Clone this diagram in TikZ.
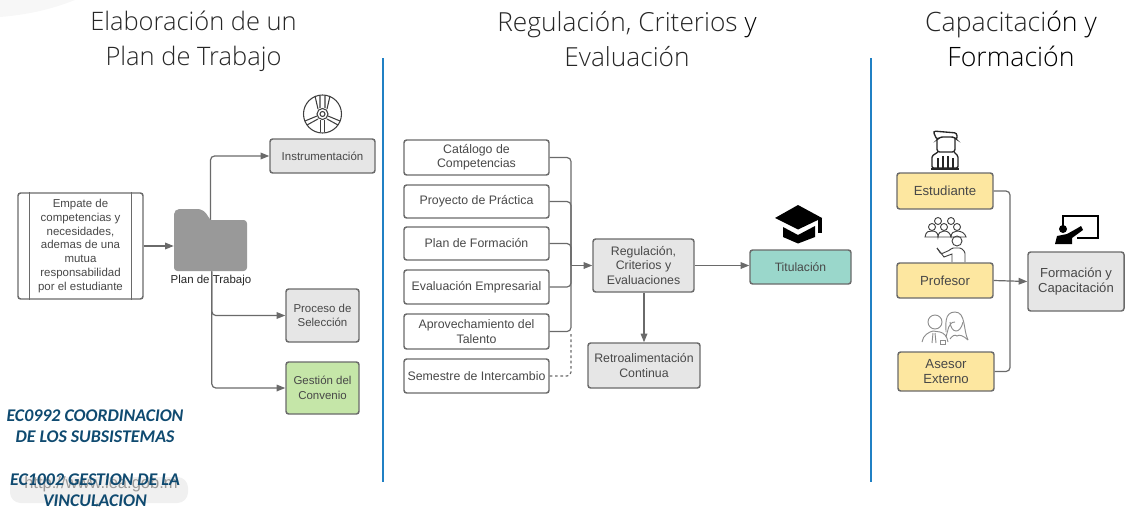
\documentclass[tikz,border=0pt]{standalone}
\usepackage{fontspec}
\setmainfont{Liberation Sans}
\newfontfamily\titlefont{Open Sans Light}
\newfontfamily\ecfont{Carlito}
\usetikzlibrary{arrows.meta}

\definecolor{boxgray}{HTML}{E6E6E6}
\definecolor{boxline}{HTML}{6A6A6A}
\definecolor{boxtext}{HTML}{484848}
\definecolor{boxgreen}{HTML}{C5E6A8}
\definecolor{boxteal}{HTML}{9AD7CB}
\definecolor{boxyellow}{HTML}{FDE7A0}
\definecolor{sepblue}{HTML}{2080C4}
\definecolor{ecblue}{HTML}{0F4A70}

\begin{document}
\begin{tikzpicture}[x=0.75pt,y=-0.75pt,
    titulo/.style={align=center,text=black!85},
    caja/.style={draw=boxline,line width=1.1pt,rounded corners=2pt,inner sep=0pt,align=center,
        text=boxtext,font=\fontsize{8.6}{10.8}\selectfont},
    media/.style={caja,fill=white,minimum width=108.75pt,font=\fontsize{9.25}{10.8}\selectfont},
    gris/.style={caja,fill=boxgray},
    amarilla/.style={caja,fill=boxyellow,font=\fontsize{9.9}{11.6}\selectfont},
    linea/.style={draw=boxline,line width=0.9pt,rounded corners=3pt},
    flecha/.style={linea,-{Triangle[length=6.5pt,width=5pt]}},
    ec/.style={font=\ecfont\bfseries\itshape\fontsize{13.4}{15.6}\selectfont,align=center,text=ecblue}]
\useasboundingbox (0,0) rectangle (1127,518);
\fill[black!3] (0,0) -- (75,0) .. controls (50,10) and (25,15) .. (0,17) -- cycle;

% titulos
\node[titulo,font=\titlefont\fontsize{19.1}{26.25}\selectfont] (t1) at (193.5,41) {Elaboración de un\\Plan de Trabajo};
\node[titulo,font=\titlefont\fontsize{19.7}{26.25}\selectfont] (t2) at (627,39) {Regulación, Criterios {\color{black}y}\\Evaluación};
\node[titulo,font=\titlefont\fontsize{20}{26.25}\selectfont] (t3) at (1011,39) {Capacitaci{\color{black}ón y}\\{\color{black}Formación}};
\coordinate (s1a) at (383,58);
\coordinate (s1b) at (383,482);
\coordinate (s2a) at (871,58);
\coordinate (s2b) at (871,482);
\draw[sepblue,line width=1.1pt] (s1a) -- (s1b);
\draw[sepblue,line width=1.1pt] (s2a) -- (s2b);

% plan de trabajo
\node[caja,fill=white,minimum width=93.75pt,minimum height=79.5pt,font=\fontsize{8.6}{10.35}\selectfont] (empate) at (80.5,246)
    {Empate de\\competencias y\\necesidades,\\ademas de una\\mutua\\responsabilidad\\por el estudiante};
\draw[boxline,line width=1.1pt] ([xshift=9pt]empate.north west) -- ([xshift=9pt]empate.south west);
\draw[boxline,line width=1.1pt] ([xshift=-9pt]empate.north east) -- ([xshift=-9pt]empate.south east);
\node[gris,minimum width=78.75pt,minimum height=25.5pt] (instr) at (322.5,156) {Instrumentación};
\node[gris,minimum width=54.75pt,minimum height=39.75pt] (proceso) at (322.5,315.5) {Proceso de\\Selección};
\node[caja,fill=boxgreen,minimum width=54.75pt,minimum height=39pt] (gestion) at (322.5,388) {Gestión del\\Convenio};
\draw[flecha] (210.5,225) |- (instr.west);
\node[fill=black!40,rounded corners=2.5pt,inner sep=0pt,minimum width=54.75pt,minimum height=38.25pt] (folder) at (210.5,245.5) {};
\fill[black!40,rounded corners=4pt] (174,235) -- (174,209) -- (203,209) -- (214,225) -- (214,235) -- cycle;
\node[inner sep=0pt,font=\fontsize{8.6}{10}\selectfont,text=black!85] (plan) at (211,281) {Plan de Trabajo};
\draw[flecha] (empate.east) -- (empate.east -| folder.west);
\draw[flecha] ([xshift=1pt]folder.south) |- (proceso.west);
\draw[flecha] ([xshift=1pt]folder.south) |- (gestion.west);

% disco
\begin{scope}[boxline!60!black,line width=0.8pt]
\draw (322.5,114) circle (19);
\draw (322.5,114) circle (5.5);
\draw (322.5,114) circle (2.5);
\draw (318,109) -- (315,96) (327,109) -- (330,96) (320,108) -- (320,96) (325,108) -- (325,96);
\draw (317,116) -- (305,121) (318,119) -- (307,125);
\draw (328,116) -- (340,121) (327,119) -- (338,125);
\draw (320.5,120) -- (320.5,132) (324.5,120) -- (324.5,132);
\end{scope}

% regulacion
\node[media,minimum height=26.25pt] (catalogo) at (476.5,157.5) {Catálogo de\\Competencias};
\node[media,minimum height=24.75pt] (proyecto) at (476.5,201.5) {Proyecto de Práctica};
\node[media,minimum height=24.75pt] (formplan) at (476.5,243.5) {Plan de Formación};
\node[media,minimum height=25.5pt] (evalua) at (476.5,287) {Evaluación Empresarial};
\node[media,minimum height=26.25pt] (aprove) at (476.5,331.5) {Aprovechamiento del\\Talento};
\node[media,minimum height=25.5pt] (semestre) at (476.5,376) {Semestre de Intercambio};
\node[gris,minimum width=75.75pt,minimum height=39.75pt,font=\fontsize{9.25}{10.8}\selectfont] (regula) at (643.5,265.5) {Regulación,\\Criterios y\\Evaluaciones};
\node[gris,minimum width=84pt,minimum height=33.75pt,font=\fontsize{9.25}{11}\selectfont] (retro) at (644,365.5) {Retroalimentación\\Continua};
\node[caja,fill=boxteal,minimum width=75.75pt,minimum height=25.5pt,font=\fontsize{9.1}{11}\selectfont] (titula) at (800.5,267) {Titulación};
\coordinate (junta) at (571,265.5);
\foreach \n in {catalogo,proyecto,formplan,evalua,aprove}
    \draw[linea] (\n.east) -| (junta);
\draw[flecha] (junta) -- (regula.west);
\draw[linea,dash pattern=on 2pt off 2pt] (semestre.east) -| (junta |- aprove.east);
\draw[flecha] (regula.south -| retro.north) -- (retro.north);
\draw[flecha] (regula.east) -- (regula.east -| titula.west);

% birrete
\fill[black] (798,205) -- (822,218) -- (798,229.5) -- (775,218) -- cycle;
\fill[black] (783,227) -- (798,235) -- (815,226) -- (815,237) -- (798,243.5) -- (783,237) -- cycle;
\fill[black] (818,218) rectangle (822,233);

% formacion
\node[amarilla,minimum width=72pt,minimum height=27pt] (estud) at (945,191) {Estudiante};
\node[amarilla,minimum width=72pt,minimum height=26.25pt] (profe) at (945,280.5) {Profesor};
\node[amarilla,minimum width=72pt,minimum height=29.25pt] (asesor) at (946,371.5) {Asesor\\Externo};
\node[gris,minimum width=72pt,minimum height=44.25pt,font=\fontsize{9.8}{11.8}\selectfont] (forma) at (1076,281.5) {Formación y\\Capacitación};
\coordinate (junta2) at (1010,281.5);
\draw[linea] (estud.east) -| (junta2);
\draw[linea] (asesor.east) -| (junta2);
\draw[flecha] (profe.east) -- (forma.west);

% estudiante
\begin{scope}[black!85,line width=1pt]
\draw[rounded corners=2pt] (937,140) -- (933,131) -- (957,133) -- (957,140) -- (954,137) -- (940,137) -- cycle;
\draw[rounded corners=2pt] (937,139) -- (937,152) -- (955,152) -- (955,139);
\draw[rounded corners=1pt] (938,152) -- (932,156) -- (932,168) -- (958,168) -- (958,156) -- (954,152);
\draw (938,158) -- (938,168) (943,156) -- (943,168) (948,156) -- (948,168) (953,158) -- (953,168);
\draw[line width=1.2pt] (931,169) -- (959,169);
\end{scope}

% profesor
\begin{scope}[black!75,line width=0.7pt]
\foreach \cx in {938,951} \draw (\cx,221) circle (3.5);
\foreach \cx in {932,944,957} \draw (\cx,227) circle (3.5);
\draw (925,237) .. controls (926,231) and (929,231) .. (932,231) .. controls (936,231) and (938,233) .. (938,237)
    .. controls (938,233) and (941,231) .. (944,231) .. controls (948,231) and (950,233) .. (951,237)
    .. controls (951,233) and (954,231) .. (957,231) .. controls (961,231) and (965,233) .. (966,237) -- cycle;
\draw (957,241) circle (5);
\draw[rounded corners=1pt] (937,248) -- (941,254) -- (950,250) -- (952,248) -- (961,248) -- (965,252) -- (965,262);
\draw (937,248) -- (944,257) -- (952,254) -- (952,262);
\end{scope}

% asesores
\begin{scope}[black!45,line width=0.7pt]
\draw (935,322) circle (7);
\draw (955,322) .. controls (948,322) and (948,331) .. (946,337);
\draw (955,312) .. controls (944,312) and (946,325) .. (946,332) (955,312) .. controls (966,312) and (963,330) .. (968,340);
\draw (950,322) .. controls (951,333) and (960,335) .. (963,322);
\draw (922,342) .. controls (923,335) and (929,332) .. (933,331) -- (940,332) .. controls (944,333) and (947,336) .. (948,342);
\draw (933,333) -- (932,343) (935,333) -- (936,343);
\draw (940,340) rectangle (945,344);
\draw (950,339) .. controls (952,336) and (955,334) .. (957,336) .. controls (959,334) and (964,336) .. (968,340);
\end{scope}

% pizarron
\draw[black,line width=2.2pt] (1063,226) -- (1063,216) -- (1098,216) -- (1098,238) -- (1077,238);
\fill[black] (1063,229) circle (4);
\fill[black] (1055,244) -- (1057,236) -- (1067,234) -- (1076,229) -- (1081,226) -- (1083,230) -- (1072,238) -- (1072,244) -- cycle;

% normas
\node[fill=black!6,rounded corners=8pt,minimum width=133.5pt,minimum height=19.5pt,inner sep=0pt] (pill) at (99,490) {};
\node[inner sep=0pt,text=black!40,font=\fontsize{12.4}{14}\selectfont] (liga) at (101,484) {http://www.iea.gob.m};
\node[inner sep=0pt,text=black!45,font=\fontsize{6}{7}\selectfont] (cierra) at (98,505) {x};
\node[ec] (ec1) at (95,426.5) {EC0992 COORDINACION\\DE LOS SUBSISTEMAS};
\node[ec] (ec2) at (95,490) {EC1002 GESTION DE LA\\VINCULACION};
\end{tikzpicture}
\end{document}
